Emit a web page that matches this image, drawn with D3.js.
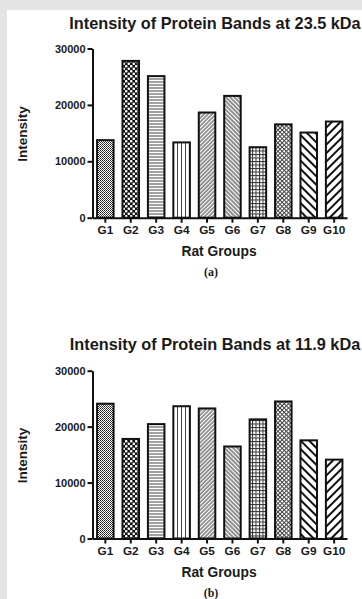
<!DOCTYPE html>
<html>
<head>
<meta charset="utf-8">
<script src="https://cdn.jsdelivr.net/npm/d3@7"></script>
<style>
  html, body { margin: 0; padding: 0; background: #e4e4e4; }
  svg { display: block; }
</style>
</head>
<body>
<div id="chart"></div>
<script>
const groups = ['G1', 'G2', 'G3', 'G4', 'G5', 'G6', 'G7', 'G8', 'G9', 'G10'];
const band235 = [13750, 27800, 25100, 13350, 18650, 21600, 12500, 16550, 15100, 17050];
const band119 = [24100, 17800, 20450, 23650, 23250, 16450, 21300, 24500, 17550, 14100];
const yTicks = [0, 10000, 20000, 30000];
const xTitle = 'Rat Groups';
const yTitle = 'Intensity';

const W = 362, H = 599;
const font = "Arial, 'Liberation Sans', Helvetica, sans-serif";

const svg = d3.select('#chart').append('svg')
  .attr('width', W)
  .attr('height', H);

svg.append('rect')
  .attr('x', 7).attr('y', 10)
  .attr('width', W - 7).attr('height', H - 10)
  .attr('fill', '#ffffff');

const defs = svg.append('defs');

// fill patterns, one per group (Prism style)
function pattern(id, w, h, draw, rot) {
  const p = defs.append('pattern')
    .attr('id', id)
    .attr('patternUnits', 'userSpaceOnUse')
    .attr('width', w).attr('height', h);
  if (rot) p.attr('patternTransform', `rotate(${rot})`);
  p.append('rect').attr('width', w).attr('height', h).attr('fill', '#fff');
  draw(p);
}

pattern('p0', 2, 2, p => {
  p.append('rect').attr('width', 1).attr('height', 1).attr('fill', '#222');
  p.append('rect').attr('x', 1).attr('y', 1).attr('width', 1).attr('height', 1).attr('fill', '#444');
});
pattern('p1', 5, 5, p => {
  p.append('rect').attr('width', 5).attr('height', 5).attr('fill', '#111');
  p.append('circle').attr('cx', 1.25).attr('cy', 1.25).attr('r', 1.3).attr('fill', '#fff');
  p.append('circle').attr('cx', 3.75).attr('cy', 3.75).attr('r', 1.3).attr('fill', '#fff');
});
pattern('p2', 4, 3, p => {
  p.append('line').attr('x1', 0).attr('x2', 4).attr('y1', 1).attr('y2', 1)
    .attr('stroke', '#444').attr('stroke-width', 1);
});
pattern('p3', 4, 4, p => {
  p.append('line').attr('x1', 1.5).attr('x2', 1.5).attr('y1', 0).attr('y2', 4)
    .attr('stroke', '#444').attr('stroke-width', 1);
});
pattern('p4', 2.8, 4, p => {
  p.append('line').attr('x1', 1).attr('x2', 1).attr('y1', 0).attr('y2', 4)
    .attr('stroke', '#333').attr('stroke-width', 1);
}, 45);
pattern('p5', 3, 4, p => {
  p.append('line').attr('x1', 1).attr('x2', 1).attr('y1', 0).attr('y2', 4)
    .attr('stroke', '#333').attr('stroke-width', 1.1);
}, -45);
pattern('p6', 3.5, 3.5, p => {
  p.append('line').attr('x1', 0).attr('x2', 3.5).attr('y1', 0.5).attr('y2', 0.5)
    .attr('stroke', '#333').attr('stroke-width', 1);
  p.append('line').attr('x1', 0.5).attr('x2', 0.5).attr('y1', 0).attr('y2', 3.5)
    .attr('stroke', '#333').attr('stroke-width', 1);
});
pattern('p7', 3, 3, p => {
  p.append('line').attr('x1', 0).attr('x2', 3).attr('y1', 0.5).attr('y2', 0.5)
    .attr('stroke', '#444').attr('stroke-width', 1);
  p.append('line').attr('x1', 0.5).attr('x2', 0.5).attr('y1', 0).attr('y2', 3)
    .attr('stroke', '#444').attr('stroke-width', 1);
}, 45);
pattern('p8', 6, 6, p => {
  p.append('line').attr('x1', 3).attr('x2', 3).attr('y1', 0).attr('y2', 6)
    .attr('stroke', '#111').attr('stroke-width', 2);
}, -45);
pattern('p9', 6, 6, p => {
  p.append('line').attr('x1', 3).attr('x2', 3).attr('y1', 0).attr('y2', 6)
    .attr('stroke', '#111').attr('stroke-width', 2);
}, 45);

const fills = groups.map((d, i) => `url(#p${i})`);

function drawChart(cfg) {
  const g = svg.append('g');

  const x = d3.scaleBand()
    .domain(groups)
    .range([92.5, 347])
    .paddingInner(0.35)
    .paddingOuter(0.18);

  const y = d3.scaleLinear()
    .domain([0, 30000])
    .range([cfg.bottom, cfg.top]);

  g.append('text')
    .attr('x', 215)
    .attr('y', cfg.titleY)
    .attr('text-anchor', 'middle')
    .style('font-family', font)
    .style('font-size', '16.3px')
    .style('font-weight', 'bold')
    .style('fill', '#1a1a1a')
    .text(cfg.title);

  g.selectAll('.bar')
    .data(cfg.values)
    .enter().append('rect')
    .attr('class', 'bar')
    .attr('x', (d, i) => x(groups[i]))
    .attr('y', d => y(d))
    .attr('width', x.bandwidth())
    .attr('height', d => y(0) - y(d))
    .attr('fill', (d, i) => fills[i])
    .attr('stroke', '#111')
    .attr('stroke-width', 2);

  const yAxis = g.append('g')
    .attr('transform', 'translate(92.5,0)')
    .call(d3.axisLeft(y).tickValues(yTicks).tickSize(5).tickSizeOuter(0).tickPadding(2)
      .tickFormat(d3.format('d')));

  const xAxis = g.append('g')
    .attr('transform', `translate(0,${cfg.bottom})`)
    .call(d3.axisBottom(x).tickSize(5).tickSizeOuter(0).tickPadding(3));

  [xAxis, yAxis].forEach(a => {
    a.select('.domain').attr('stroke', '#111').attr('stroke-width', 2);
    a.selectAll('.tick line').attr('stroke', '#111').attr('stroke-width', 2);
    a.selectAll('.tick text')
      .style('font-family', font)
      .style('font-weight', 'bold')
      .style('fill', '#1a1a1a');
  });
  yAxis.selectAll('.tick text').style('font-size', '11px');
  xAxis.selectAll('.tick text').style('font-size', '11.8px');

  g.append('text')
    .attr('x', 219)
    .attr('y', cfg.bottom + 38)
    .attr('text-anchor', 'middle')
    .style('font-family', font)
    .style('font-size', '13.8px')
    .style('font-weight', 'bold')
    .style('fill', '#1a1a1a')
    .text(xTitle);

  g.append('text')
    .attr('transform', `translate(27,${(cfg.top + cfg.bottom) / 2 + 1}) rotate(-90)`)
    .attr('text-anchor', 'middle')
    .style('font-family', font)
    .style('font-size', '13.5px')
    .style('font-weight', 'bold')
    .style('fill', '#1a1a1a')
    .text(yTitle);

  g.append('text')
    .attr('x', 211)
    .attr('y', cfg.bottom + 58)
    .attr('text-anchor', 'middle')
    .style('font-family', "'Liberation Serif', 'Times New Roman', serif")
    .style('font-size', '12px')
    .style('font-weight', 'bold')
    .style('fill', '#1a1a1a')
    .text(cfg.caption);
}

drawChart({ title: 'Intensity of Protein Bands at 23.5 kDa', values: band235,
  top: 48.5, bottom: 217.7, titleY: 29, caption: '(a)' });
drawChart({ title: 'Intensity of Protein Bands at 11.9 kDa', values: band119,
  top: 370.7, bottom: 538.5, titleY: 350, caption: '(b)' });
</script>
</body>
</html>
